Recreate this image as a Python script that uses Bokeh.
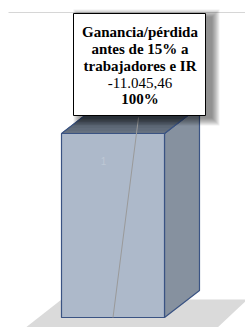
import numpy as np
from bokeh.plotting import figure
from bokeh.models import Range1d
from bokeh.core.properties import value as pv
from bokeh.embed import file_html
from bokeh.resources import INLINE

# ---- data ----
categories = ["1"]
values = [-11045.46]
percents = [100]
label_title = ["Ganancia/pérdida", "antes de 15% a", "trabajadores e IR"]

# ---- layout (window pixel geometry) ----
W, H = 245, 327
OX, OY = 0, 0
BAR_L, BAR_R = 61, 164             # front face in px
BAR_TOP, BAR_BOT = 133, 317        # px of value 0 and of min value
DX_PX, DY_PX = 35, 27              # 3D depth offset

vmin = min(values)
sx = (BAR_R - BAR_L) / 1.0
sy = (BAR_BOT - BAR_TOP) / (0 - vmin)
cx_px = (BAR_L + BAR_R) / 2

def xd(px):
    return (px - cx_px) / sx

def yd(py):
    return -(py - BAR_TOP) / sy

dx = DX_PX / sx
dy = DY_PX / sy

p = figure(width=W, height=H, output_backend="svg", toolbar_location=None,
           x_range=Range1d(xd(OX), xd(OX + W)), y_range=Range1d(yd(OY + H), yd(OY)),
           min_border=0, outline_line_color=None, background_fill_color="white",
           border_fill_color="white")
p.xaxis.visible = False
p.yaxis.visible = False
p.grid.visible = False

# top thin line
p.segment(x0=[xd(8)], y0=[yd(12)], x1=[xd(W)], y1=[yd(12)],
          line_color="#D6D6D6", line_width=1)

# floor
floor_x = [xd(61), xd(247), xd(216), xd(24)]
floor_y = [yd(299), yd(299), yd(328), yd(328)]
p.patch(floor_x, floor_y, fill_color="#DADADA", line_color=None)

def lerp(c0, c1, t):
    a = np.array([int(c0[i:i + 2], 16) for i in (1, 3, 5)], float)
    b = np.array([int(c1[i:i + 2], 16) for i in (1, 3, 5)], float)
    c = a + (b - a) * t
    return "#%02x%02x%02x" % tuple(int(round(v)) for v in c)

edge = "#3A5383"
for i, (cat, v) in enumerate(zip(categories, values)):
    L, R = i - 0.5, i + 0.5
    # side face
    p.patch([R, R + dx, R + dx, R], [0, dy, v + dy, v],
            fill_color="#86919F", line_color=edge, line_width=1.2)
    # top face gradient
    n = 9
    for k in range(n):
        t0, t1 = k / n, (k + 1) / n
        col = lerp("#68748383"[:7], "#3C4552", (k + 0.5) / n)
        p.patch([L + dx * t0, R + dx * t0, R + dx * t1, L + dx * t1],
                [dy * t0, dy * t0, dy * t1, dy * t1],
                fill_color=col, line_color=col, line_width=1)
    p.patch([L, R, R + dx, L + dx], [0, 0, dy, dy], fill_color=None,
            line_color=edge, line_width=1.2)
    # front face
    p.quad(left=[L], right=[R], top=[0], bottom=[v], fill_color="#ADB9CA",
           line_color=edge, line_width=1.2)
    # category label (faint)
    p.text(x=[xd(103)], y=[yd(160)], text=[cat], text_align="center",
           text_baseline="middle", text_font=pv("Liberation Sans"),
           text_font_size="10px", text_color="#BEC8D5")

# data label box
BOX_L, BOX_R, BOX_T, BOX_B = 73, 205, 13, 115
lab_x_px = (BOX_L + BOX_R) / 2 + 0.5
for i, v in enumerate(values):
    # leader line from data point to label
    p.segment(x0=[i], y0=[v], x1=[xd(138)], y1=[yd(BOX_B + 2)],
              line_color="#9A9A9A", line_width=1)

# shadow
for k in range(8):
    e = 7 - k
    p.quad(left=[xd(BOX_L + 7 - e)], right=[xd(BOX_R + 7 + e)],
           top=[yd(BOX_T + 3 - e)], bottom=[yd(BOX_B + 3 + e)],
           fill_color="#000000", fill_alpha=0.065, line_color=None)
p.quad(left=[xd(BOX_L)], right=[xd(BOX_R)], top=[yd(BOX_T)], bottom=[yd(BOX_B)],
       fill_color="white", line_color="#000000", line_width=1)

def fmt_es(v):
    s = "{:,.2f}".format(v)
    return s.replace(",", "X").replace(".", ",").replace("X", ".")

lines = label_title + [fmt_es(values[0]), "%d%%" % percents[0]]
styles = ["bold", "bold", "bold", "normal", "bold"]
line_y = [31, 48, 65, 82, 98.5]
for t, st, ly in zip(lines, styles, line_y):
    p.text(x=[xd(lab_x_px)], y=[yd(ly)], text=[t], text_align="center",
           text_baseline="middle", text_font=pv("Liberation Serif"),
           text_font_size="15px", text_font_style=st, text_color="#000000")

open("out.html", "w").write(file_html(p, INLINE))
